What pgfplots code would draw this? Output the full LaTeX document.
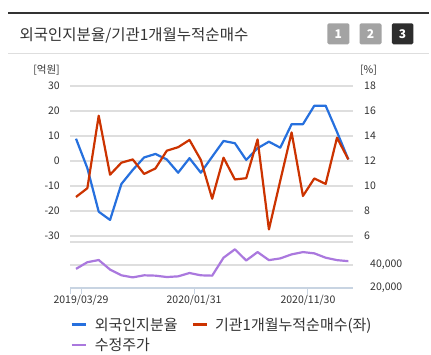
\documentclass[border=0pt]{standalone}
\usepackage{fontspec}
\setmainfont{Noto Sans CJK KR}
\usepackage{pgfplots}
\usepackage{pgfplotstable}
\pgfplotsset{compat=1.18}
\definecolor{cblue}{RGB}{38,112,222}
\definecolor{cred}{RGB}{204,51,0}
\definecolor{cpurple}{RGB}{170,120,222}
\definecolor{gridc}{RGB}{222,222,222}
\definecolor{axc}{RGB}{200,212,226}
\definecolor{txt}{RGB}{51,51,51}
\definecolor{boxg}{RGB}{163,163,163}
\definecolor{boxd}{RGB}{45,45,45}

\pgfplotstableread{
i blue red price
0 13.76 -14.5 36200
1 11.40 -11.0 42000
2 7.92 18.0 43900
3 7.26 -5.6 35600
4 10.14 -0.8 30600
5 11.26 0.5 28800
6 12.26 -5.3 30600
7 12.54 -3.1 30300
8 12.10 4.0 29100
9 11.04 5.4 29700
10 12.20 8.3 32600
11 11.04 0.3 30600
12 12.32 -15.2 30300
13 13.58 1.2 45900
14 13.40 -7.5 53200
15 12.06 -7.0 43500
16 13.00 8.5 50800
17 13.52 -27.5 43800
18 13.04 -8.0 45300
19 14.92 11.3 48800
20 14.92 -14.1 50800
21 16.40 -7.1 49700
22 16.40 -9.3 45900
23 14.30 9.2 43800
24 12.10 0.5 42900
}\datatable

\pgfplotsset{base/.style={
  scale only axis, width=283pt, xmin=-0.53, xmax=24.41, anchor=south west,
  axis line style={draw=none}, ytick style={draw=none},
  tick label style={font=\fontsize{10.5}{12}\selectfont, text=txt},
  /pgf/number format/assume math mode=true,
  scaled y ticks=false,
}}

\begin{document}
\begin{tikzpicture}
\useasboundingbox (0,0) rectangle (431pt,354pt);
\fill[white] (0,0) rectangle (431pt,354pt);
\begin{scope}[x=1pt,y=-1pt,shift={(0pt,354pt)}]
\draw[line width=2pt, color=txt] (8,13.3) -- (429,13.3);
\draw[line width=1pt, color=gridc] (8,53.5) -- (429,53.5);
\node[anchor=west, inner sep=0pt, text=txt, font=\fontsize{15.5}{17}\selectfont] at (19.5,35) {외국인지분율/기관1개월누적순매수};
\fill[boxg, rounded corners=1.5pt] (327.3,23.3) rectangle (349.3,44.3);
\fill[boxg, rounded corners=1.5pt] (359.5,23.3) rectangle (381.5,44.3);
\fill[boxd, rounded corners=1.5pt] (391.8,23.3) rectangle (413.3,44.3);
\node[text=white, font=\fontsize{12}{14}\selectfont\bfseries] at (338.3,33.8) {1};
\node[text=white, font=\fontsize{12}{14}\selectfont\bfseries] at (370.5,33.8) {2};
\node[text=white, font=\fontsize{12}{14}\selectfont\bfseries] at (402.5,33.8) {3};
\node[text=txt, font=\fontsize{10.5}{12}\selectfont, inner sep=0pt] at (46.5,70) {[억원]};
\node[text=txt, font=\fontsize{10.5}{12}\selectfont, inner sep=0pt] at (368.5,70) {[\%]};
\end{scope}

% right axis (blue, %), with grid
\begin{axis}[base, at={(70pt,118.3pt)}, height=150pt,
  ymin=6, ymax=18, ytick={6,8,...,18}, xtick=\empty,
  ymajorgrids, grid style={gridc, line width=2pt},
  yticklabel pos=right,
  yticklabel style={anchor=west, inner sep=0pt, xshift=11pt}]
\addplot[cblue, line width=2.2pt, line join=round, mark=none] table[x=i,y=blue]{\datatable};
\end{axis}

% left axis (red)
\begin{axis}[base, at={(70pt,118.3pt)}, height=150pt,
  ymin=-30, ymax=30, ytick={-30,-20,...,30}, xtick=\empty,
  yticklabel style={anchor=east, inner sep=0pt, xshift=-10pt}]
\addplot[cred, line width=2.2pt, line join=round, mark=none] table[x=i,y=red]{\datatable};
\end{axis}

% lower axis (price)
\begin{axis}[base, at={(70pt,66.5pt)}, height=46pt,
  ymin=20000, ymax=60000,
  ytick={20000,40000,60000}, yticklabels={{20,000},{40,000},{}},
  ymajorgrids, grid style={gridc, line width=2pt},
  axis x line*=bottom, axis y line*=right,
  x axis line style={draw=axc, line width=2pt, -},
  y axis line style={draw=none, -},
  yticklabel style={anchor=west, inner sep=0pt, xshift=11pt},
  xtick={0.44,10.4,20.44},
  xticklabels={2019/03/29,2020/01/31,2020/11/30},
  extra x ticks={-0.53}, extra x tick labels={{}},
  xtick style={draw=axc, line width=1pt},
  tick align=outside, major tick length=6pt,
  xticklabel style={anchor=north, inner sep=0pt, yshift=-1.5pt},
  legend columns=2,
  legend cell align=left,
  legend style={at={(0.001,-0.607)}, anchor=north west, draw=none, fill=none,
    inner sep=0pt, row sep=2.5pt, font=\fontsize{15}{17}\selectfont, text=txt,
    /tikz/every even column/.append style={column sep=12pt}},
  legend image code/.code={\draw[#1, line width=2.5pt] (0pt,0pt) -- (14pt,0pt); \path (20pt,0pt);},
]
\addlegendimage{cblue}
\addlegendentry{외국인지분율}
\addlegendimage{cred}
\addlegendentry{기관1개월누적순매수(좌)}
\addplot[cpurple, line width=2.2pt, line join=round, mark=none] table[x=i,y=price]{\datatable};
\addlegendentry{수정주가}
\end{axis}
\end{tikzpicture}
\end{document}
